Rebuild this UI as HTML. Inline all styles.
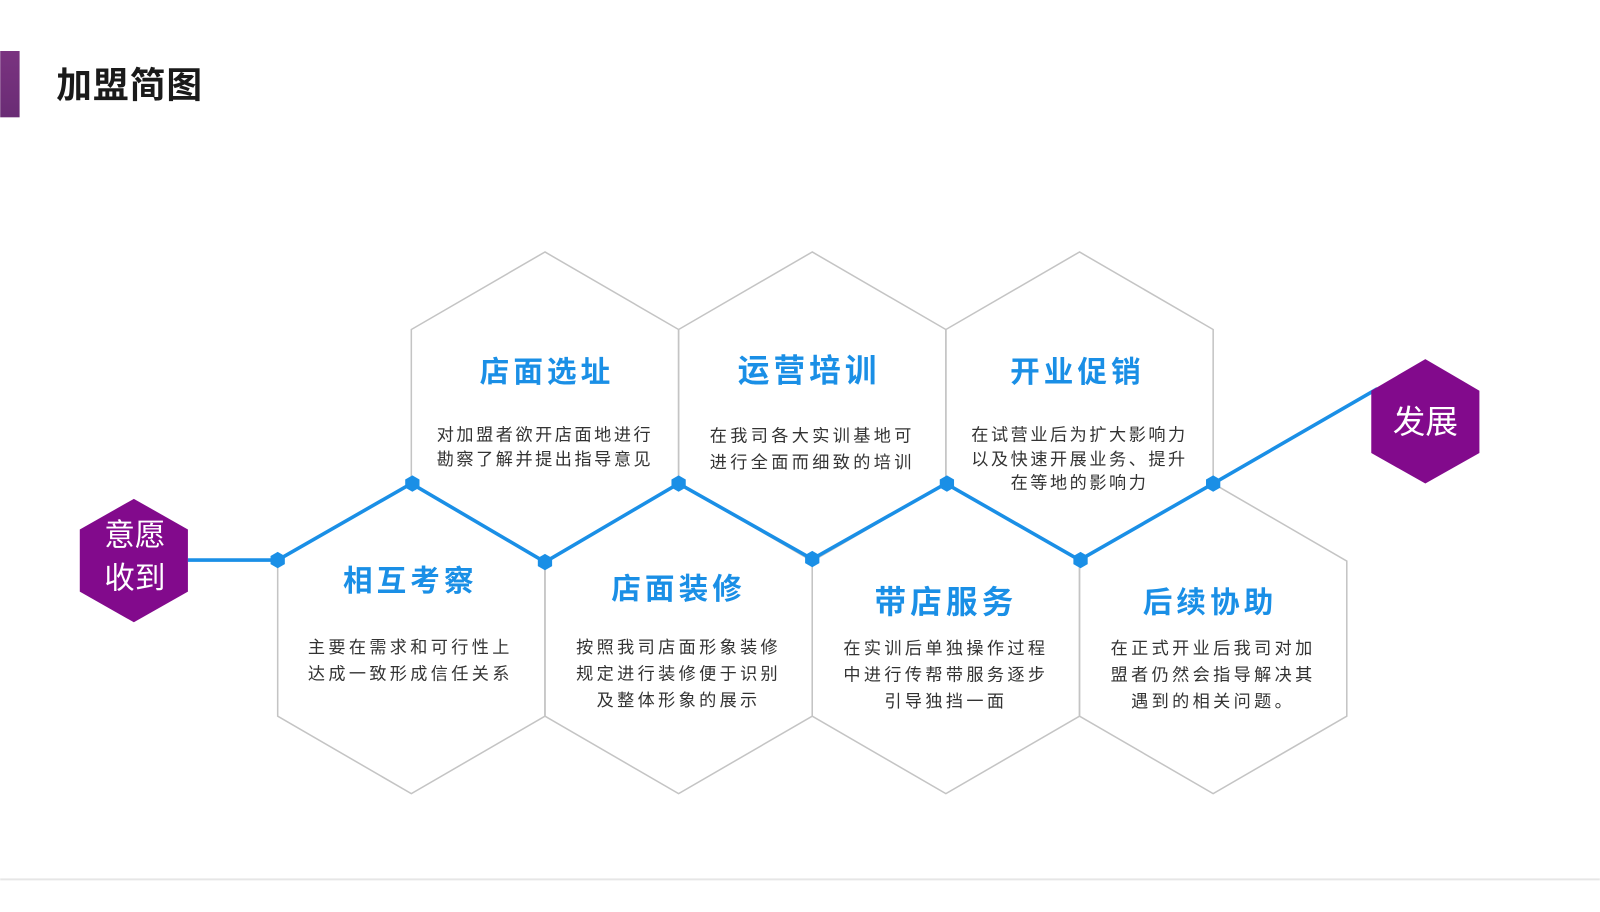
<!DOCTYPE html>
<html><head><meta charset="utf-8"><style>
html,body{margin:0;padding:0;background:#fff;}
svg{display:block;}
text{font-family:"Liberation Sans","Noto Sans CJK SC",sans-serif;}
.t{fill:#1a8fe6;font-size:29px;font-weight:bold;letter-spacing:4px;text-anchor:middle;dominant-baseline:central;}
.b{fill:#333;font-size:16.8px;letter-spacing:2.5px;text-anchor:middle;dominant-baseline:central;}
.l{letter-spacing:3.3px;}
.w{fill:#fff;font-size:30px;text-anchor:middle;dominant-baseline:central;}
</style></head><body>
<svg width="1600" height="912" viewBox="0 0 1568 894" xmlns="http://www.w3.org/2000/svg">
<defs><linearGradient id="g" x1="0" y1="0" x2="0" y2="1"><stop offset="0" stop-color="#7a3380"/><stop offset="1" stop-color="#6a2c75"/></linearGradient></defs>
<rect x="0" y="50" width="19" height="65" fill="url(#g)"/>
<text x="55" y="84" style="font-size:35px;font-weight:bold;fill:#1a1a1a;letter-spacing:1px;dominant-baseline:central;">加盟简图</text>
<line x1="0" y1="862" x2="1568" y2="862" stroke="#e6e6e6" stroke-width="2"/>
<g fill="none" stroke="#c4c4c4" stroke-width="1.5">
<polygon points="534,247 665,323 665,474 534,550 403,474 403,323"/>
<polygon points="796,247 927,323 927,474 796,550 665,474 665,323"/>
<polygon points="1058,247 1189,323 1189,474 1058,550 927,474 927,323"/>
<polygon points="403,474 534,550 534,702 403,778 272,702 272,550"/>
<polygon points="665,474 796,550 796,702 665,778 534,702 534,550"/>
<polygon points="927,474 1058,550 1058,702 927,778 796,702 796,550"/>
<polygon points="1189,474 1320,550 1320,702 1189,778 1058,702 1058,550"/>
</g>
<polyline points="184,549 272,549 403,474 534,551 665,474 796,548 927,474 1058,549 1189,474 1350,381" fill="none" stroke="#1a8fe6" stroke-width="3.5"/>
<g fill="#1a8fe6">
<polygon points="272,541 279,545 279,553 272,557 265,553 265,545"/>
<polygon points="404,466 411,470 411,478 404,482 397,478 397,470"/>
<polygon points="534,543 541,547 541,555 534,559 527,555 527,547"/>
<polygon points="665,466 672,470 672,478 665,482 658,478 658,470"/>
<polygon points="796,540 803,544 803,552 796,556 789,552 789,544"/>
<polygon points="928,466 935,470 935,478 928,482 921,478 921,470"/>
<polygon points="1059,541 1066,545 1066,553 1059,557 1052,553 1052,545"/>
<polygon points="1189,466 1196,470 1196,478 1189,482 1182,478 1182,470"/>
</g>
<polygon points="131,489 184,519 184,580 131,610 78,580 78,519" fill="#820a8c"/>
<text class="w" x="132" y="525">意愿</text>
<text class="w" x="132" y="567">收到</text>
<polygon points="1397,352 1450,383 1450,444 1397,474 1344,444 1344,383" fill="#820a8c"/>
<text class="w" x="1397" y="413" style="font-size:32px">发展</text>
<text class="t" x="536" y="365">店面选址</text>
<text class="b" x="534" y="426">对加盟者欲开店面地进行</text>
<text class="b" x="534" y="450">勘察了解并提出指导意见</text>
<text class="t" x="793" y="363" style="font-size:31px">运营培训</text>
<text class="b l" x="796" y="427">在我司各大实训基地可</text>
<text class="b l" x="796" y="453">进行全面而细致的培训</text>
<text class="t" x="1056" y="365">开业促销</text>
<text class="b" x="1058" y="426">在试营业后为扩大影响力</text>
<text class="b" x="1058" y="450">以及快速开展业务、提升</text>
<text class="b" x="1058" y="473">在等地的影响力</text>
<text class="t" x="402" y="570">相互考察</text>
<text class="b l" x="402" y="634">主要在需求和可行性上</text>
<text class="b l" x="402" y="660">达成一致形成信任关系</text>
<text class="t" x="665" y="578">店面装修</text>
<text class="b l" x="665" y="634">按照我司店面形象装修</text>
<text class="b l" x="665" y="660">规定进行装修便于识别</text>
<text class="b l" x="665" y="686">及整体形象的展示</text>
<text class="t" x="927" y="590" style="font-size:31px">带店服务</text>
<text class="b l" x="927" y="635">在实训后单独操作过程</text>
<text class="b l" x="927" y="661">中进行传帮带服务逐步</text>
<text class="b l" x="927" y="687">引导独挡一面</text>
<text class="t" x="1186" y="591">后续协助</text>
<text class="b l" x="1189" y="635">在正式开业后我司对加</text>
<text class="b l" x="1189" y="661">盟者仍然会指导解决其</text>
<text class="b l" x="1189" y="687">遇到的相关问题。</text>
</svg>
</body></html>
